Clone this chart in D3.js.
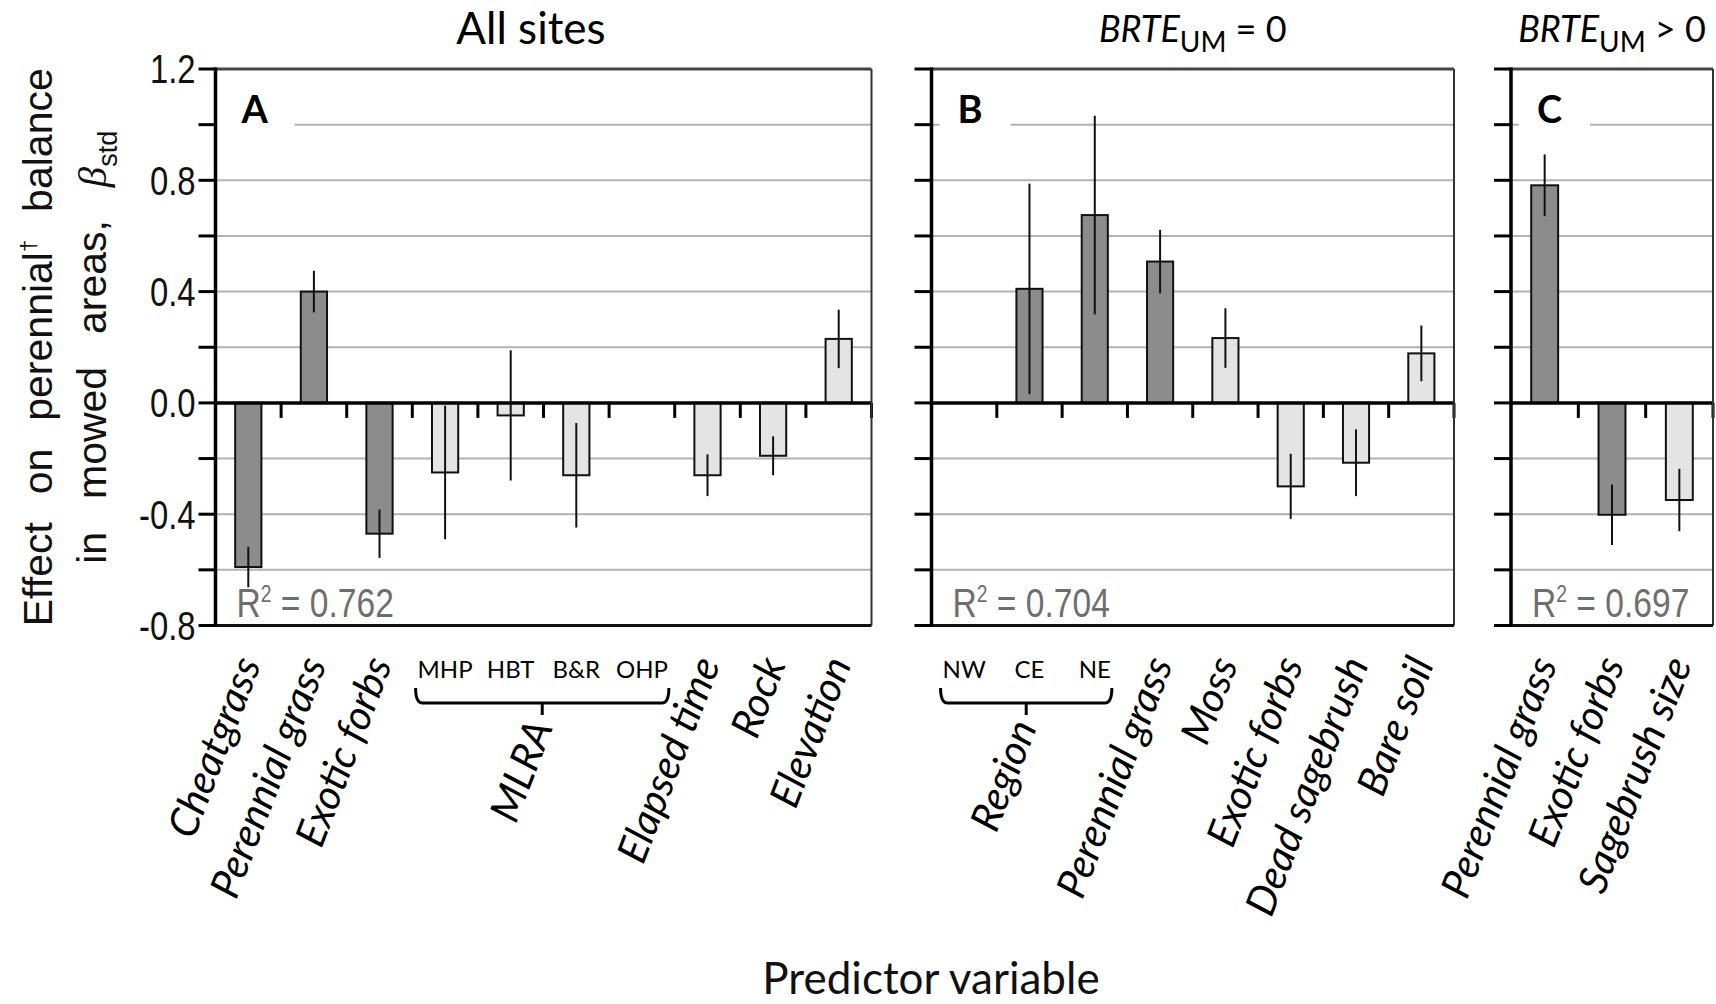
<!DOCTYPE html>
<html><head><meta charset="utf-8">
<script src="https://cdn.jsdelivr.net/npm/d3@7"></script>
<style>body{margin:0;background:#fff} svg{display:block}</style>
</head><body>
<svg id="chart" width="1716" height="1004"></svg>
<script>
// ---------- DATA ----------
const categoriesA = ["Cheatgrass","Perennial grass","Exotic forbs","MHP","HBT","B&R","OHP","Elapsed time","Rock","Elevation"];
const valuesA = [-0.59, 0.40, -0.47, -0.25, -0.045, -0.26, null, -0.26, -0.19, 0.23];
const errorsA = [0.073, 0.075, 0.087, 0.24, 0.234, 0.188, null, 0.075, 0.07, 0.105];
const shadesA = ["dark","dark","dark","light","light","light",null,"light","light","light"];

const categoriesB = ["NW","CE","NE","Perennial grass","Moss","Exotic forbs","Dead sagebrush","Bare soil"];
const valuesB = [null, 0.41, 0.675, 0.508, 0.233, -0.30, -0.215, 0.178];
const errorsB = [null, 0.378, 0.357, 0.114, 0.107, 0.117, 0.12, 0.10];
const shadesB = [null,"dark","dark","dark","light","light","light","light"];

const categoriesC = ["Perennial grass","Exotic forbs","Sagebrush size"];
const valuesC = [0.782, -0.402, -0.349];
const errorsC = [0.111, 0.109, 0.112];
const shadesC = ["dark","dark","light"];

const panelLetters = ["A","B","C"];
const rSquared = ["0.762","0.704","0.697"];
const groupBrackets = [
  {panel:0, label:"MLRA", members:["MHP","HBT","B&R","OHP"]},
  {panel:1, label:"Region", members:["NW","CE","NE"]}
];
const yTickValues = [1.2,1.0,0.8,0.6,0.4,0.2,0.0,-0.2,-0.4,-0.6,-0.8];
const yTickLabels = ["1.2","0.8","0.4","0.0","-0.4","-0.8"];
const gridValues = [1.0,0.8,0.6,0.4,0.2,-0.2,-0.4,-0.6];
const xTitle = "Predictor variable";

// ---------- LAYOUT ----------
const svg = d3.select("#chart");
svg.append("rect").attr("width",1716).attr("height",1004).attr("fill","#fff");

const yTop = 69, yBot = 625.5;
const y = d3.scaleLinear().domain([-0.8,1.2]).range([yBot,yTop]);
const panels = [
  {x0:215.5, x1:871.5, cats:categoriesA, vals:valuesA, errs:errorsA, shades:shadesA},
  {x0:931.5, x1:1454,  cats:categoriesB, vals:valuesB, errs:errorsB, shades:shadesB},
  {x0:1511,  x1:1713,  cats:categoriesC, vals:valuesC, errs:errorsC, shades:shadesC}
];
const fill = {dark:"#8c8c8c", light:"#e4e4e4"};
const sansC = "Lato, 'Open Sans', sans-serif";
const sansA = "'Liberation Sans', Arial, sans-serif";

function narrow(sel, f){
  sel.each(function(){
    const L = this.getComputedTextLength();
    d3.select(this).attr("textLength", L*f).attr("lengthAdjust","spacingAndGlyphs");
  });
}

panels.forEach((p, pi) => {
  const x = d3.scaleBand().domain(p.cats).range([p.x0, p.x1]).paddingInner(0.6).paddingOuter(0.3);
  const step = x.step();
  const g = svg.append("g");

  // gridlines
  g.selectAll(".grid").data(gridValues).join("line")
    .attr("x1", p.x0).attr("x2", p.x1)
    .attr("y1", d => y(d)).attr("y2", d => y(d))
    .attr("stroke","#b2b2b2").attr("stroke-width",2);

  // white box behind the panel letter
  g.append("rect").attr("x", p.x0 + (pi===0?1.5:8)).attr("y", y(1.0)-12)
    .attr("width", 79 - (pi===0?1.5:8)).attr("height", 24).attr("fill","#fff");
  g.append("text").attr("x", p.x0 + 26).attr("y", 123)
    .style("font-family", sansC).style("font-weight","bold").style("font-size","38px")
    .text(panelLetters[pi]);

  // bars
  const data = p.cats.map((c,i)=>({c, v:p.vals[i], e:p.errs[i], s:p.shades[i]})).filter(d=>d.v!==null);
  g.selectAll(".bar").data(data).join("rect")
    .attr("x", d => x(d.c)).attr("width", x.bandwidth())
    .attr("y", d => y(Math.max(0,d.v))).attr("height", d => Math.abs(y(d.v)-y(0)))
    .attr("fill", d => fill[d.s]).attr("stroke","#111").attr("stroke-width",2);
  g.selectAll(".err").data(data).join("line")
    .attr("x1", d => x(d.c)+x.bandwidth()/2).attr("x2", d => x(d.c)+x.bandwidth()/2)
    .attr("y1", d => y(d.v+d.e)).attr("y2", d => y(d.v-d.e))
    .attr("stroke","#111").attr("stroke-width",2);

  // zero line + x ticks at category boundaries
  g.append("line").attr("x1",p.x0).attr("x2",p.x1).attr("y1",y(0)).attr("y2",y(0))
    .attr("stroke","#000").attr("stroke-width",3.5);
  g.selectAll(".xt").data(p.cats).join("line")
    .attr("x1", d => x(d)-x.bandwidth()*0.75+step).attr("x2", d => x(d)-x.bandwidth()*0.75+step)
    .attr("y1", y(0)).attr("y2", y(0)+15)
    .attr("stroke","#000").attr("stroke-width",3);

  // frame
  g.append("line").attr("x1",p.x0).attr("x2",p.x1).attr("y1",yTop).attr("y2",yTop).attr("stroke","#444").attr("stroke-width",3);
  g.append("line").attr("x1",p.x1).attr("x2",p.x1).attr("y1",yTop).attr("y2",yBot).attr("stroke","#333").attr("stroke-width",2);
  g.append("line").attr("x1",p.x0).attr("x2",p.x1).attr("y1",yBot).attr("y2",yBot).attr("stroke","#111").attr("stroke-width",3);
  g.append("line").attr("x1",p.x0).attr("x2",p.x0).attr("y1",yTop-1.5).attr("y2",yBot+1.5).attr("stroke","#000").attr("stroke-width",3.5);

  // y ticks
  g.selectAll(".yt").data(yTickValues).join("line")
    .attr("x1", p.x0-17).attr("x2", p.x0).attr("y1", d=>y(d)).attr("y2", d=>y(d))
    .attr("stroke","#000").attr("stroke-width",3);
  if (pi===0){
    const lab = g.selectAll(".yl").data(yTickLabels).join("text")
      .attr("x", p.x0-20).attr("y", d=>y(+d)).attr("dy","0.36em")
      .attr("text-anchor","end")
      .style("font-family", sansA).style("font-size","40px").attr("fill","#111")
      .text(d=>d);
    narrow(lab, 0.82);
  }

  // R^2 (horizontally condensed through a scale transform)
  const rx = p.x0 + 21;
  const r = g.append("text").attr("transform", `translate(${rx},616.5) scale(0.84,1)`)
    .style("font-family", sansA).style("font-size","40px").attr("fill","#6e6e6e");
  r.append("tspan").text("R");
  r.append("tspan").attr("dy",-15).style("font-size","23px").text("2");
  r.append("tspan").attr("dy",15).text(" = " + rSquared[pi]);

  // x labels
  const grouped = groupBrackets.filter(b=>b.panel===pi).flatMap(b=>b.members);
  p.cats.forEach(c => {
    const cx = x(c)+x.bandwidth()/2;
    if (grouped.includes(c)) {
      g.append("text").attr("class","gm-"+pi).attr("x", cx).attr("y", 678)
        .attr("text-anchor","middle")
        .style("font-family", sansC).style("font-size","24px").text(c);
    } else {
      g.append("text").attr("transform", `translate(${cx+13},664) rotate(-69)`)
        .attr("text-anchor","end")
        .style("font-family", sansC).style("font-style","italic").style("font-size","41px")
        .text(c);
    }
  });

  groupBrackets.filter(b=>b.panel===pi).forEach(b => {
    let xmin=1e9, xmax=-1e9;
    g.selectAll(".gm-"+pi).each(function(){ const bb=this.getBBox(); xmin=Math.min(xmin,bb.x); xmax=Math.max(xmax,bb.x+bb.width); });
    xmin -= 2; xmax += 1;
    const mid = (xmin+xmax)/2;
    g.append("path")
      .attr("d", `M${xmin},688 Q${xmin},703 ${xmin+7},703 L${xmax-7},703 Q${xmax},703 ${xmax},688 M${mid},703 L${mid},715`)
      .attr("fill","none").attr("stroke","#000").attr("stroke-width",3);
    g.append("text").attr("transform", `translate(${mid+11},727) rotate(-69)`)
      .attr("text-anchor","end")
      .style("font-family", sansC).style("font-style","italic").style("font-size","41px")
      .text(b.label);
  });
});

// ---------- titles ----------
svg.append("text").attr("x", 531).attr("y", 44)
  .attr("text-anchor","middle").style("font-family", sansC).style("font-size","44px").text("All sites");
[1,2].forEach((pi) => {
  const p = panels[pi];
  const t = svg.append("text").attr("x",(p.x0+p.x1)/2).attr("y",42)
    .attr("text-anchor","middle").style("font-family", sansC).style("font-size","36px");
  t.append("tspan").style("font-style","italic").text("BRTE");
  t.append("tspan").attr("dy",10).style("font-size","28px").text("UM");
  t.append("tspan").attr("dy",-10).text(pi===1 ? " = 0" : " > 0");
});

// y-axis title (two justified lines)
const yMid = (yTop+yBot)/2;
function justify(textSel, target){
  const node = textSel.node();
  const L = node.getComputedTextLength();
  const spaces = (node.textContent.match(/ /g)||[]).length;
  textSel.style("word-spacing", ((target-L)/spaces) + "px");
}
const t1 = svg.append("text").attr("transform",`translate(52,${yMid}) rotate(-90)`)
  .attr("text-anchor","middle").style("font-family", sansA).style("font-size","41px").attr("fill","#111");
t1.append("tspan").text("Effect on perennial");
t1.append("tspan").attr("dy",-16).style("font-size","22px").text("†");
t1.append("tspan").attr("dy",16).text(" balance");
justify(t1, 558);

const t2 = svg.append("text").attr("transform",`translate(106,${yMid}) rotate(-90)`)
  .attr("text-anchor","middle").style("font-family", sansA).style("font-size","41px").attr("fill","#111");
t2.append("tspan").text("in mowed areas, ");
t2.append("tspan").style("font-family","'Liberation Serif', 'DejaVu Serif', serif").style("font-style","italic").text("β");
t2.append("tspan").attr("dy",11).style("font-size","27px").text("std");
justify(t2, 433);

svg.append("text").attr("x", 931).attr("y", 994).attr("text-anchor","middle")
  .style("font-family", sansC).style("font-size","44px").attr("fill","#111").text(xTitle);
</script>
</body></html>
